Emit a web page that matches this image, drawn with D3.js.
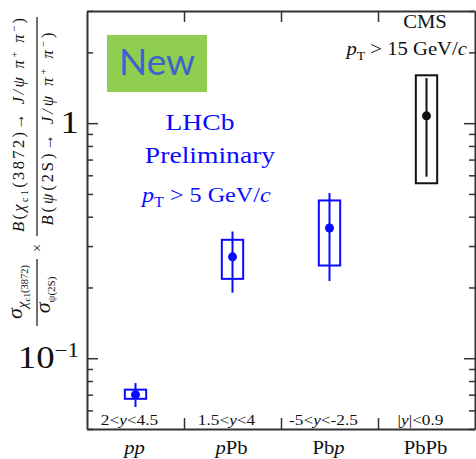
<!DOCTYPE html>
<html>
<head>
<meta charset="utf-8">
<script src="https://cdn.jsdelivr.net/npm/d3@7"></script>
<style>
  body { margin: 0; background: #fff; }
  svg { display: block; }
</style>
</head>
<body>
<svg></svg>
<script>
// collision systems and rapidity ranges
const systems = ["pp", "pPb", "Pbp", "PbPb"];
const rapidity = ["2<y<4.5", "1.5<y<4", "-5<y<-2.5", "|y|<0.9"];
const experiment = ["LHCb", "LHCb", "LHCb", "CMS"];

// ratio values with stat (line) and syst (box) ranges
const ratio = [0.070, 0.27, 0.358, 1.074];
const statLow = [0.062, 0.19, 0.213, 0.592];
const statHigh = [0.0784, 0.346, 0.504, 1.555];
const systLow = [0.0672, 0.2176, 0.248, 0.555];
const systHigh = [0.0735, 0.319, 0.469, 1.598];

const yTicks = [0.1, 1];
const yTickBase = ["10", "1"];
const yTickExp = ["\u22121", ""];

const svgWidth = 476, svgHeight = 459;
const margin = { top: 11, right: 1, bottom: 30, left: 87 };
const width = svgWidth - margin.left - margin.right;
const height = svgHeight - margin.top - margin.bottom;

const serif = "'Liberation Serif', 'Times New Roman', serif";
const stretch = 1.15;
const blue = "#0a0aff", black = "#111";
const colorOf = e => e === "LHCb" ? blue : black;

const svg = d3.select("svg")
    .attr("width", svgWidth)
    .attr("height", svgHeight);

const g = svg.append("g")
    .attr("transform", "translate(" + margin.left + "," + margin.top + ")");

const x = d3.scaleLinear().domain([0, 4]).range([0, width]);
const y = d3.scaleLog().domain([0.05, 3]).range([height, 0]);

const isMajor = d => Math.abs(Math.log10(d) - Math.round(Math.log10(d))) < 1e-6;

function styleAxis(a) {
    a.select(".domain").attr("stroke", "#333").attr("stroke-width", 2);
    a.selectAll(".tick line").attr("stroke", "#333").attr("stroke-width", 1.5);
}

// frame with inward ticks
g.append("g")
    .call(d3.axisLeft(y).tickValues(y.ticks()).tickSizeInner(-11).tickSizeOuter(0).tickFormat(""))
    .call(styleAxis)
    .call(a => a.selectAll(".tick line").attr("x2", d => isMajor(d) ? 11 : 6));

g.append("g")
    .attr("transform", "translate(" + width + ",0)")
    .call(d3.axisRight(y).tickValues(y.ticks()).tickSizeInner(-11).tickSizeOuter(0).tickFormat(""))
    .call(styleAxis)
    .call(a => a.selectAll(".tick line").attr("x2", d => isMajor(d) ? -11 : -6));

g.append("g")
    .attr("transform", "translate(0," + height + ")")
    .call(d3.axisBottom(x).tickValues([1, 2, 3]).tickSizeInner(-11).tickSizeOuter(0).tickFormat(""))
    .call(styleAxis);

g.append("g")
    .call(d3.axisTop(x).tickValues([1, 2, 3]).tickSizeInner(-11).tickSizeOuter(0).tickFormat(""))
    .call(styleAxis);

// y tick labels
yTicks.forEach(function(v, i) {
    const t = svg.append("text")
        .attr("transform", "translate(" + (margin.left - 8) + "," + (margin.top + y(v) + 10) + ") scale(" + stretch + ",1)")
        .attr("font-family", serif)
        .attr("font-size", 32)
        .attr("text-anchor", "end")
        .attr("fill", black);
    t.append("tspan").text(yTickBase[i]);
    if (yTickExp[i]) t.append("tspan").attr("font-size", 20).attr("dy", -11).text(yTickExp[i]);
});

// measurements
const boxHalf = x(0.11) - x(0);
const pts = g.selectAll(".pt")
    .data(ratio.map((v, i) => ({ i: i, v: v })))
    .enter().append("g");

pts.append("rect")
    .attr("x", d => x(d.i + 0.5) - boxHalf)
    .attr("width", boxHalf * 2)
    .attr("y", d => y(systHigh[d.i]))
    .attr("height", d => y(systLow[d.i]) - y(systHigh[d.i]))
    .attr("fill", "none")
    .attr("stroke", d => colorOf(experiment[d.i]))
    .attr("stroke-width", 2);

pts.append("line")
    .attr("x1", d => x(d.i + 0.5))
    .attr("x2", d => x(d.i + 0.5))
    .attr("y1", d => y(statLow[d.i]))
    .attr("y2", d => y(statHigh[d.i]))
    .attr("stroke", d => colorOf(experiment[d.i]))
    .attr("stroke-width", 2);

pts.append("circle")
    .attr("cx", d => x(d.i + 0.5))
    .attr("cy", d => y(d.v))
    .attr("r", 4.5)
    .attr("fill", d => colorOf(experiment[d.i]));

// text helper
function label(x0, y0, size, anchor, color) {
    return svg.append("text")
        .attr("transform", "translate(" + x0 + "," + y0 + ") scale(" + stretch + ",1)")
        .attr("font-family", serif)
        .attr("font-size", size)
        .attr("text-anchor", anchor)
        .attr("fill", color);
}

function addParts(t, parts) {
    parts.forEach(function(p) {
        const s = t.append("tspan").text(p[0]);
        const o = p[1] || {};
        if (o.i) s.attr("font-style", "italic");
        if (o.s) s.attr("font-size", o.s);
        if (o.dy) s.attr("dy", o.dy);
    });
    return t;
}

// rapidity labels and system names
systems.forEach(function(s, i) {
    const cx = margin.left + x(i + 0.5);
    const rt = label(cx - 6, 425, 15, "middle", black);
    addParts(rt, rapidity[i].split(/(y)/).filter(c => c).map(c => [c, { i: c === "y" }]));
    const st = label(cx - 1, 454, 18, "middle", black);
    addParts(st, s.split("").map(c => [c, { i: c === "p" }]));
});

// "New" badge
svg.append("rect")
    .attr("x", 107).attr("y", 35).attr("width", 100).attr("height", 57)
    .attr("fill", "#8fce4e");
svg.append("text")
    .attr("x", 157).attr("y", 75)
    .attr("text-anchor", "middle")
    .attr("font-family", "Lato, 'Open Sans', sans-serif")
    .attr("font-size", 37)
    .attr("fill", "#3d63cc")
    .text("New");

// LHCb annotation
label(200, 130, 24, "middle", blue).text("LHCb");
label(210, 163, 24, "middle", blue).text("Preliminary");
addParts(label(142, 202, 21, "start", blue), [
    ["p", { i: 1 }], ["T", { s: 14, dy: 5 }], [" > 5 GeV/", { dy: -5 }], ["c", { i: 1 }]
]);

// CMS annotation
label(425, 28, 18, "middle", black).text("CMS");
addParts(label(467, 55, 18, "end", black), [
    ["p", { i: 1 }], ["T", { s: 12, dy: 5 }], [" > 15 GeV/", { dy: -5 }], ["c", { i: 1 }]
]);

// y axis title, drawn rotated
const yl = svg.append("g")
    .attr("transform", "translate(0," + svgHeight + ") rotate(-90)")
    .attr("font-family", serif)
    .attr("fill", black);

function ylText(u, v, size, len, parts) {
    const t = yl.append("text")
        .attr("x", u).attr("y", v)
        .attr("font-size", size)
        .attr("text-anchor", "middle");
    if (len) t.attr("textLength", len).attr("lengthAdjust", "spacing");
    return addParts(t, parts);
}

ylText(334, 24, 16.5, 214, [
    ["B", { i: 1 }], ["("], ["\u03c7", { i: 1 }], ["c1", { s: 10, dy: 4 }],
    ["(3872)\u2192 ", { dy: -4 }], ["J/\u03c8", { i: 1 }], [" \u03c0", { i: 1 }],
    ["+", { s: 11, dy: -6 }], [" \u03c0", { i: 1, dy: 6 }], ["\u2212", { s: 11, dy: -6 }], [")", { dy: 6 }]
]);
ylText(330, 53, 16.5, 193, [
    ["B", { i: 1 }], ["("], ["\u03c8", { i: 1 }], ["(2S)\u2192 "], ["J/\u03c8", { i: 1 }], [" \u03c0", { i: 1 }],
    ["+", { s: 11, dy: -6 }], [" \u03c0", { i: 1, dy: 6 }], ["\u2212", { s: 11, dy: -6 }], [")", { dy: 6 }]
]);
ylText(211, 42, 15, 0, [["\u00d7"]]);
ylText(167, 22, 22, 0, [
    ["\u03c3", { i: 1 }], ["\u03c7", { i: 1, s: 15, dy: 5 }], ["c1", { s: 9, dy: 3 }], ["(3872)", { s: 10.5, dy: -2 }]
]);
ylText(164, 50, 22, 0, [
    ["\u03c3", { i: 1 }], ["\u03c8(2S)", { s: 11, dy: 5 }]
]);

yl.append("line").attr("x1", 223).attr("x2", 442).attr("y1", 37).attr("y2", 37)
    .attr("stroke", black).attr("stroke-width", 1.2);
yl.append("line").attr("x1", 133).attr("x2", 200).attr("y1", 37).attr("y2", 37)
    .attr("stroke", black).attr("stroke-width", 1.2);
</script>
</body>
</html>
